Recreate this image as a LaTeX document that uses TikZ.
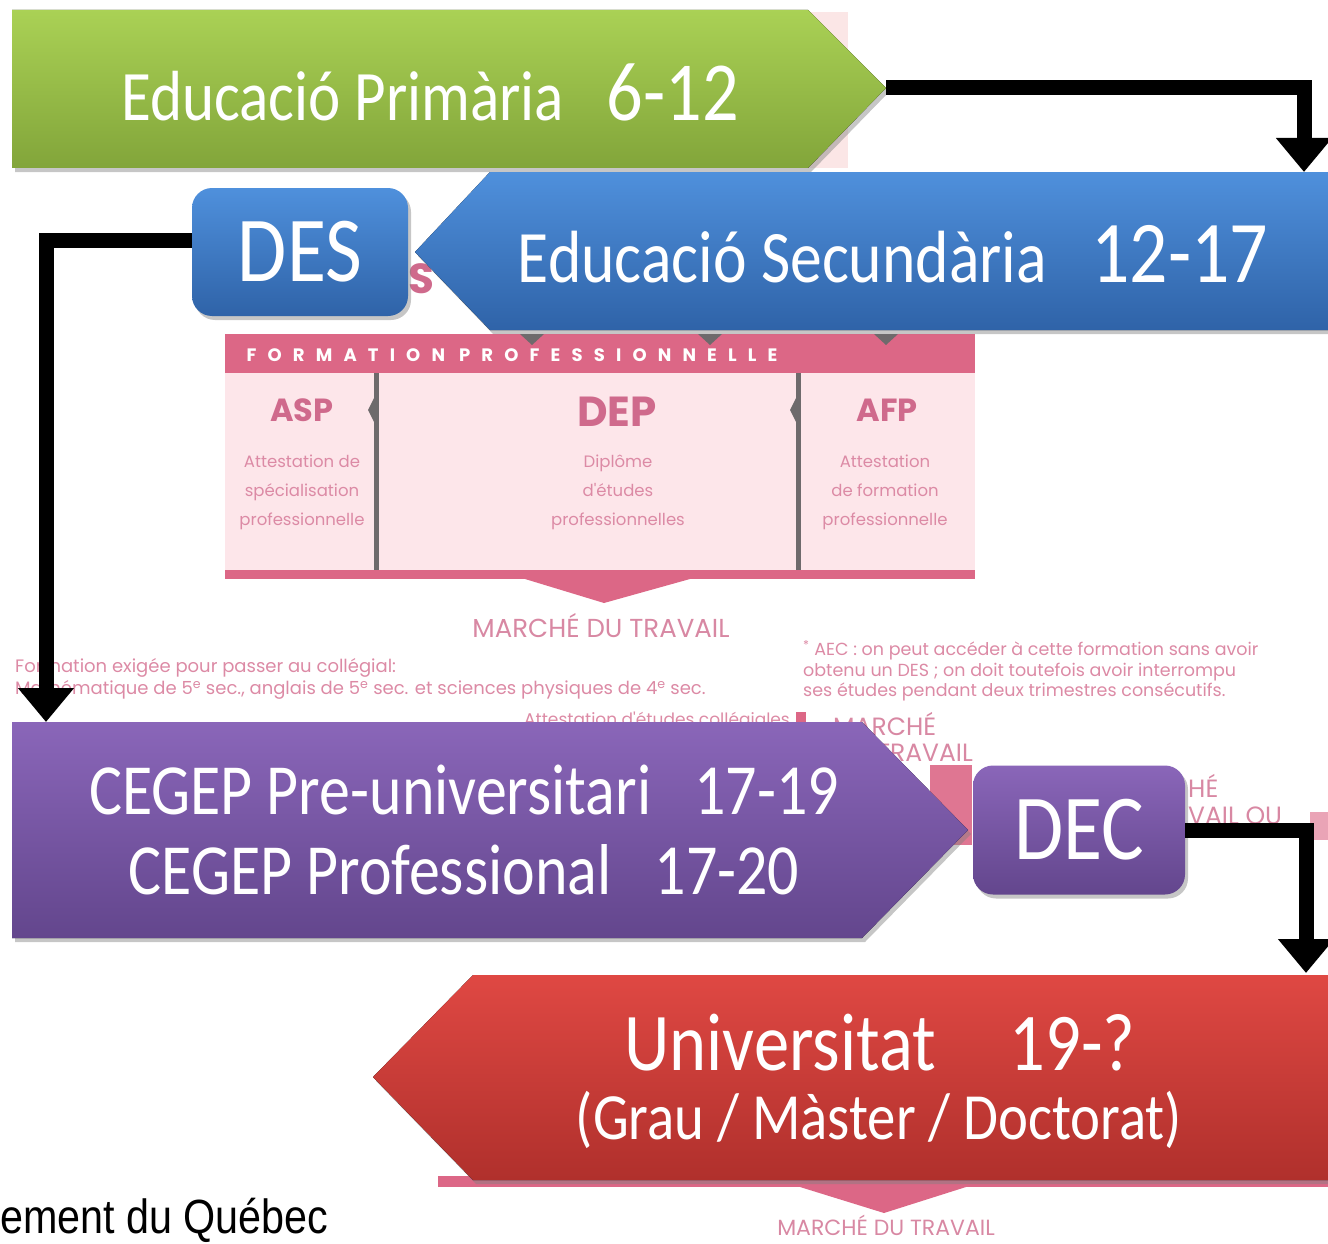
\documentclass[tikz,border=0pt]{standalone}
\usepackage{fontspec}
\setmainfont{Carlito}
\newfontfamily\stagefont[FakeStretch=0.86]{Carlito}
\newfontfamily\chartfont{Poppins}
\newfontfamily\narrowfont[FakeStretch=0.86]{Liberation Sans}
\usetikzlibrary{arrows.meta,shadows}

\definecolor{primtop}{HTML}{AAD155}
\definecolor{primbot}{HTML}{82A53A}
\definecolor{sectop}{HTML}{4F90DC}
\definecolor{secbot}{HTML}{2F63A8}
\definecolor{cegtop}{HTML}{8A66B9}
\definecolor{cegbot}{HTML}{63468D}
\definecolor{unitop}{HTML}{DF4843}
\definecolor{unibot}{HTML}{B0302C}
\definecolor{pinkband}{HTML}{DC6786}
\definecolor{pinklight}{HTML}{FDE6EA}
\definecolor{pinkpale}{HTML}{FBE6E6}
\definecolor{pinktext}{HTML}{CF6A8C}
\definecolor{pinksoft}{HTML}{DC8AA5}
\definecolor{greyline}{HTML}{6E6A6C}

\tikzstyle{stage}=[drop shadow={shadow xshift=3pt,shadow yshift=-4pt,opacity=0.45}]
\tikzstyle{primary}=[stage,top color=primtop,bottom color=primbot]
\tikzstyle{secondary}=[stage,top color=sectop,bottom color=secbot]
\tikzstyle{college}=[stage,top color=cegtop,bottom color=cegbot]
\tikzstyle{univ}=[stage,top color=unitop,bottom color=unibot]
\tikzstyle{diploma}=[stage,rounded corners=20pt,minimum width=216pt,minimum height=128pt,inner sep=0pt,text=white,font=\stagefont\fontsize{93}{93}\selectfont]
\tikzstyle{stagetext}=[text=white,inner sep=0pt,align=center]
\tikzstyle{chart}=[text=pinktext,inner sep=0pt,align=center,font=\chartfont]
\tikzstyle{conn}=[line width=15pt,-{Triangle[width=54pt,length=34pt]}]

\begin{document}
\begin{tikzpicture}[x=1pt,y=-1pt]
  \useasboundingbox (0,0) rectangle (1328,1244);
  \clip (0,0) rectangle (1328,1244);

  % background chart
  \fill[pinkpale] (806,12) rectangle (848,168);
  \node[chart,font=\chartfont\bfseries\fontsize{42}{42}\selectfont] (desS) at (421,279) {S};
  \fill[pinkband] (225,334) rectangle (975,373);
  \foreach \x in {532,710,886}
    \fill[greyline] (\x-12,334) -- (\x+12,334) -- (\x,345) -- cycle;
  \node[chart,text=white,font=\chartfont\bfseries\addfontfeature{LetterSpace=62}\fontsize{18}{18}\selectfont] (fp) at (512,355) {FORMATION\hspace{14pt}PROFESSIONNELLE};
  \fill[pinklight] (225,373) rectangle (975,571);
  \fill[greyline] (374,373) rectangle (379,571);
  \fill[greyline] (796,373) rectangle (801,571);
  \fill[greyline] (374,398) -- (368,410) -- (374,422) -- cycle;
  \fill[greyline] (796,398) -- (790,410) -- (796,422) -- cycle;
  \fill[pinkband] (225,570) rectangle (975,579);
  \fill[pinkband] (525,579) -- (690,579) -- (604,603) -- cycle;
  \node[chart,font=\chartfont\bfseries\fontsize{32}{32}\selectfont] (asp) at (302,410) {ASP};
  \node[chart,font=\chartfont\bfseries\fontsize{42}{42}\selectfont] (dep) at (617,412) {DEP};
  \node[chart,font=\chartfont\bfseries\fontsize{32}{32}\selectfont] (afp) at (887,410) {AFP};
  \node[chart,text=pinksoft,font=\chartfont\fontsize{16.5}{29}\selectfont] (aspt) at (302,492) {Attestation de\\spécialisation\\professionnelle};
  \node[chart,text=pinksoft,font=\chartfont\fontsize{16.5}{29}\selectfont] (dept) at (618,492) {Diplôme\\d'études\\professionnelles};
  \node[chart,text=pinksoft,font=\chartfont\fontsize{16.5}{29}\selectfont] (afpt) at (885,492) {Attestation\\de formation\\professionnelle};
  \node[chart,text=pinktext!80,font=\chartfont\fontsize{26}{26}\selectfont] (mt1) at (601,626) {MARCHÉ DU TRAVAIL};
  \node[chart,text=pinksoft,anchor=west,align=left,font=\chartfont\fontsize{18}{22}\selectfont] (req) at (15,679) {Formation exigée pour passer au collégial:\\Mathématique de 5\textsuperscript{e} sec., anglais de 5\textsuperscript{e} sec. et sciences physiques de 4\textsuperscript{e} sec.};
  \node[chart,text=pinksoft,anchor=west,align=left,font=\chartfont\fontsize{17.5}{20.5}\selectfont] (aec) at (803,671) {\textsuperscript{*} AEC : on peut accéder à cette formation sans avoir\\obtenu un DES ; on doit toutefois avoir interrompu\\ses études pendant deux trimestres consécutifs.};
  \node[chart,text=pinksoft,font=\chartfont\fontsize{17}{17}\selectfont] (aecl) at (657,721) {Attestation d'études collégiales};
  \fill[pinkband] (796,712) rectangle (806,724);
  \node[chart,text=pinktext!80,anchor=west,font=\chartfont\fontsize{25}{25}\selectfont] (mt2) at (833,724) {MARCHÉ};
  \node[chart,text=pinktext!80,anchor=east,font=\chartfont\fontsize{25}{25}\selectfont] (mt3) at (973,753) {DU TRAVAIL};
  \fill[pinkband!90] (930,765) rectangle (972,845);
  \node[chart,text=pinktext!80,anchor=west,font=\chartfont\fontsize{25}{25}\selectfont] (mt4) at (1188,786) {HÉ};
  \node[chart,text=pinktext!80,anchor=west,font=\chartfont\fontsize{25}{25}\selectfont] (mt5) at (1188,816) {VAIL OU};
  \fill[pinkband!60] (1310,812) rectangle (1328,840);
  \fill[pinkband] (438,1176) rectangle (1328,1187);
  \fill[pinkband] (800,1187) -- (966,1187) -- (884,1213) -- cycle;
  \node[chart,text=pinktext!80,font=\chartfont\fontsize{22}{22}\selectfont] (mt6) at (886,1225) {MARCHÉ DU TRAVAIL};
  \node[anchor=west,inner sep=0pt,font=\narrowfont\fontsize{48}{48}\selectfont] (source) at (0,1220) {ement du Québec};

  % stages
  \fill[primary] (12,10) -- (808,10) -- (886,88) coordinate(primtip) -- (808,168) -- (12,168) -- cycle;
  \fill[secondary] (1340,172) -- (490,172) -- (415,252) -- (490,330) -- (1340,330) -- cycle;
  \fill[college] (12,722) -- (862,722) -- (968,830) -- (862,938) -- (12,938) -- cycle;
  \fill[univ] (1340,975) -- (473,975) -- (373,1077) -- (473,1180) -- (1340,1180) -- cycle;
  \coordinate (secin) at (1304,172);
  \coordinate (cegin) at (46,722);
  \coordinate (uniin) at (1306,973);

  \node[stagetext,font=\stagefont\fontsize{71}{71}\selectfont] (prim) at (430,92) {Educació Primària\hspace{0.6em}{\fontsize{84}{84}\selectfont 6-12}};
  \node[stagetext,font=\stagefont\fontsize{74}{74}\selectfont] (sec) at (893,254) {Educació Secundària\hspace{0.6em}{\fontsize{88}{88}\selectfont 12-17}};
  \node[stagetext,font=\stagefont\fontsize{72}{80}\selectfont] (ceg) at (464,830) {CEGEP Pre-universitari\hspace{0.6em}17-19\\CEGEP Professional\hspace{0.6em}17-20};
  \node[stagetext,font=\stagefont\fontsize{82}{82}\selectfont] (uni) at (880,1043) {Universitat\hspace{0.9em}19-?};
  \node[stagetext,font=\stagefont\fontsize{66}{66}\selectfont] (grau) at (879,1120) {(Grau / Màster / Doctorat)};

  % diplomas
  \node[diploma,top color=sectop,bottom color=secbot] (des) at (300,252) {DES};
  \node[diploma,top color=cegtop,bottom color=cegbot,minimum width=212pt,minimum height=129pt] (dec) at (1079,830) {DEC};

  % transitions
  \draw[conn] (primtip) -| (secin);
  \draw[conn] ([yshift=12pt]des.west) -| (cegin);
  \draw[conn] (dec.east) -| (uniin);
\end{tikzpicture}
\end{document}
